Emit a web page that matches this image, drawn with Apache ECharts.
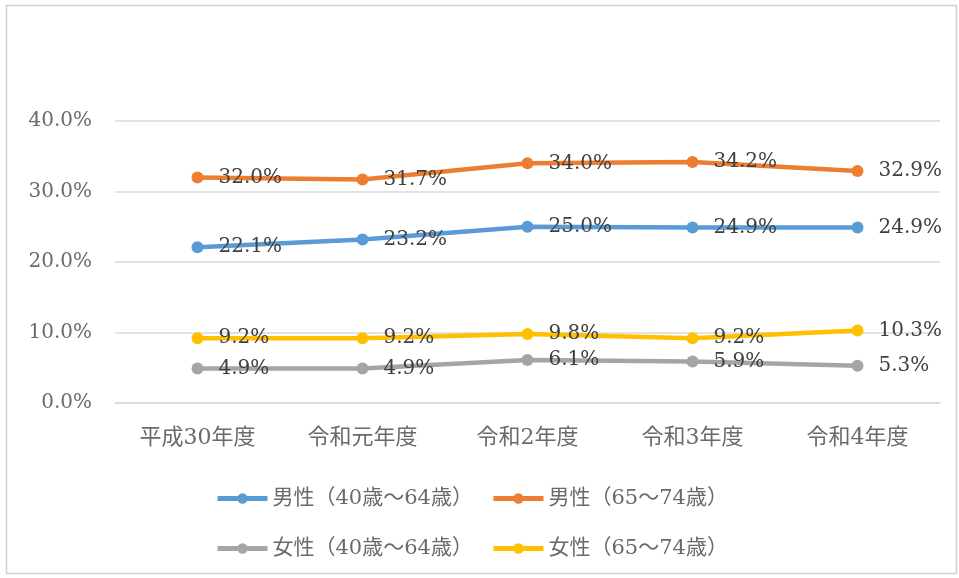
<!DOCTYPE html>
<html><head><meta charset="utf-8">
<script src="https://cdn.jsdelivr.net/npm/echarts@6/dist/echarts.min.js"></script>
<style>html,body{margin:0;padding:0;background:#fff}#c{width:959px;height:578px}</style>
</head><body><div id="c"></div>
<script>
const categories = ['平成30年度','令和元年度','令和2年度','令和3年度','令和4年度'];
const seriesNames = ['男性（40歳～64歳）','男性（65～74歳）','女性（40歳～64歳）','女性（65～74歳）'];
const male4064 = [22.1, 23.2, 25.0, 24.9, 24.9];
const male6574 = [32.0, 31.7, 34.0, 34.2, 32.9];
const female4064 = [4.9, 4.9, 6.1, 5.9, 5.3];
const female6574 = [9.2, 9.2, 9.8, 9.2, 10.3];
const colors = ['#5B9BD5','#ED7D31','#A5A5A5','#FFC000'];
const FONT = "'DejaVu Serif','Noto Sans CJK JP',serif";

const chart = echarts.init(document.getElementById('c'), null, {renderer:'canvas'});
function mk(name, data, color){
  return {
    name, type:'line', data, symbol:'circle', symbolSize:12,
    lineStyle:{width:4.5, color}, itemStyle:{color},
    label:{show:true, position:'right', distance:15, color:'#404040', fontFamily:FONT, fontSize:20,
      formatter: p => p.value.toFixed(1) + '%'},
    z:2
  };
}
const legendCommon = {itemWidth:50, itemHeight:13, itemGap:18,
  lineStyle:{width:5}, textStyle:{color:'#6a6a6a', fontFamily:FONT, fontSize:21}};
chart.setOption({
  animation:false,
  graphic:[{type:'rect', shape:{x:6.5,y:5.5,width:950,height:568}, style:{fill:'none', stroke:'#d0d0d0', lineWidth:1.5}, silent:true}],
  grid:{left:115, right:19, top:121, bottom:175},
  xAxis:{type:'category', data:categories, boundaryGap:true,
    axisLine:{show:true, lineStyle:{color:'#d9d9d9', width:1.5}}, axisTick:{show:false},
    axisLabel:{color:'#6a6a6a', fontFamily:FONT, fontSize:22, margin:24}},
  yAxis:{type:'value', min:0, max:40, interval:10,
    axisLine:{show:false}, axisTick:{show:false},
    splitLine:{lineStyle:{color:'#d9d9d9', width:1.5}},
    axisLabel:{color:'#6a6a6a', fontFamily:FONT, fontSize:20, margin:23, formatter: v => v.toFixed(1)+'%'}},
  legend:[
    Object.assign({data:[seriesNames[0], seriesNames[1]], left:210, top:483}, legendCommon),
    Object.assign({data:[seriesNames[2], seriesNames[3]], left:210, top:533}, legendCommon)
  ],
  series:[
    mk(seriesNames[0], male4064, colors[0]),
    mk(seriesNames[1], male6574, colors[1]),
    mk(seriesNames[2], female4064, colors[2]),
    mk(seriesNames[3], female6574, colors[3])
  ]
});
</script></body></html>
